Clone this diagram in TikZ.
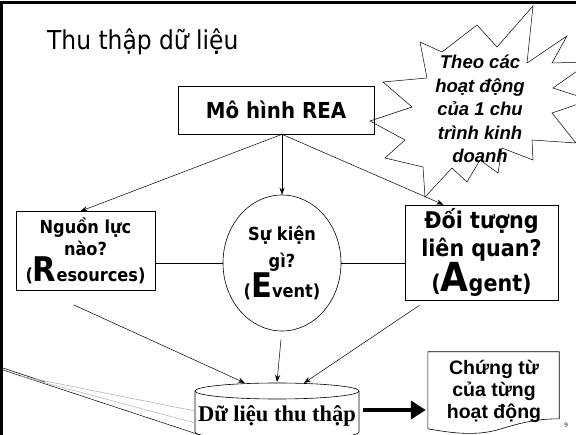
\documentclass[tikz,border=0pt]{standalone}
\usepackage{fontspec}
\setmainfont{Liberation Serif}
\newfontfamily\tah{DejaVu Sans Condensed}
\newfontfamily\ari{Liberation Sans}
\usetikzlibrary{arrows.meta,calc,shapes.geometric}
\tikzset{
  box/.style={draw, line width=0.6pt, align=center, inner sep=0pt},
  con/.style={line width=0.5pt},
  arr/.style={con, -{Stealth[length=7pt,width=5pt]}},
  tahb/.style 2 args={font=\tah\bfseries\fontsize{#1}{#2}\selectfont},
}
\begin{document}
\begin{tikzpicture}[x=1pt,y=-1pt]
\useasboundingbox (0,0) rectangle (576,435);
\fill[white] (0,0) rectangle (576,435);
% slide frame edges
\draw[line width=3.5pt] (1.5,436) -- (1.5,2.5) -- (577,2.5);
% title
\node[anchor=base west, font=\tah\fontsize{26}{30}\selectfont, inner sep=0pt] (title) at (47,50) {Thu thập dữ liệu};
% starburst
\draw[line width=0.5pt, fill=white] (533,6) -- (527,63) -- (567,36) -- (552,63) -- (590,62) -- (553,88) -- (590,100) -- (552,113) -- (576,143) -- (532,140) -- (533,160) -- (502,148) -- (498,173) -- (480,160) -- (467,182) -- (452,168) -- (425,197) -- (423,167) -- (385,158) -- (405,140) -- (370,121) -- (412,107) -- (383,82) -- (427,78) -- (420,42) -- (442,52) -- (477,25) -- (497,47) -- cycle;
\node[align=center, font=\ari\bfseries\itshape\fontsize{18.5}{23.5}\selectfont, inner sep=0pt] (theo) at (480,109) {Theo các\\hoạt động\\của 1 chu\\trình kinh\\doanh};
% REA
\node[box, minimum width=196, minimum height=48, tahb={22}{25}] (rea) at (276,110) {Mô hình REA};
% three boxes
\node[box, minimum width=139, minimum height=79, tahb={18}{22}] (res) at (85.5,251) {Nguồn lực\\nào?\\({\fontsize{34}{34}\selectfont R}esources)};
\node[draw, line width=0.6pt, ellipse, minimum width=118, minimum height=136, inner sep=0pt, align=center, tahb={18}{27}] (ev) at (282,263) {Sự kiện\\gì?\\({\fontsize{34}{34}\selectfont E}vent)};
\node[box, minimum width=153, minimum height=95, tahb={23}{28}] (ag) at (481.5,252.5) {Đối tượng\\liên quan?\\({\fontsize{40}{40}\selectfont A}gent)};
% connectors
\coordinate (reab) at ($(rea.south)+(6,0)$);
\draw[arr] (reab) -- ($(res.north)+(-5,0)$);
\draw[arr] (reab) -- (ev.north);
\draw[arr] (reab) -- ($(ag.north)+(-38,0)$);
\draw[con] (ev.west) -- (ev.west -| res.east);
\draw[con] (ev.east) -- (ev.east -| ag.west);
% cylinder
\node[minimum width=164, minimum height=50, inner sep=0pt, font=\bfseries\fontsize{22.5}{26}\selectfont] (db) at (277,416) {Dữ liệu thu thập};
\coordinate (dbtop) at (277,391);
\draw[line width=0.6pt] (dbtop) ellipse [x radius=82, y radius=8];
\draw[line width=0.6pt] (195,391) -- (195,432) arc[start angle=180, end angle=0, x radius=82, y radius=8] -- (359,391);
\draw[arr] ($(res.south)+(-12,14)$) -- ($(dbtop)+(-32,-8)$);
\draw[arr] ($(ev.south)+(-1,8)$) -- ($(dbtop)+(0,-9)$);
\draw[arr] ($(ag.south)+(-62,5)$) -- ($(dbtop)+(27,-8)$);
% left lines
\draw[con] (0,367) -- (45,382);
\draw[con] (0,369) -- (200,435);
\draw[con, gray!60] (20,376) -- (195,411);
\draw[con, gray!60] (20,376) -- (195,423);
% document
\node[inner sep=0pt, minimum width=131, minimum height=78] (docbox) at (493.5,391) {};
\draw[line width=0.6pt] (docbox.north west) -- (docbox.north east) -- ($(docbox.north east)+(0,67)$) .. controls +(-23,0) and +(20,-6) .. ($(docbox.north east)+(-58,77)$) .. controls +(-25,8) and +(23,4) .. ($(docbox.north west)+(0,77)$) -- cycle;
\node[align=center, inner sep=0pt, font=\ari\bfseries\fontsize{19.5}{22}\selectfont] (doc) at (494,391) {Chứng từ\\của từng\\hoạt động};
\draw[line width=4.5pt, -{Triangle[length=15pt,width=18pt]}] ($(db.east)+(4,-6)$) -- ($(docbox.west)+(-2,19)$);
\node[font=\fontsize{7}{8}\selectfont, inner sep=0pt] (pg) at (566,425) {9};
\end{tikzpicture}
\end{document}
